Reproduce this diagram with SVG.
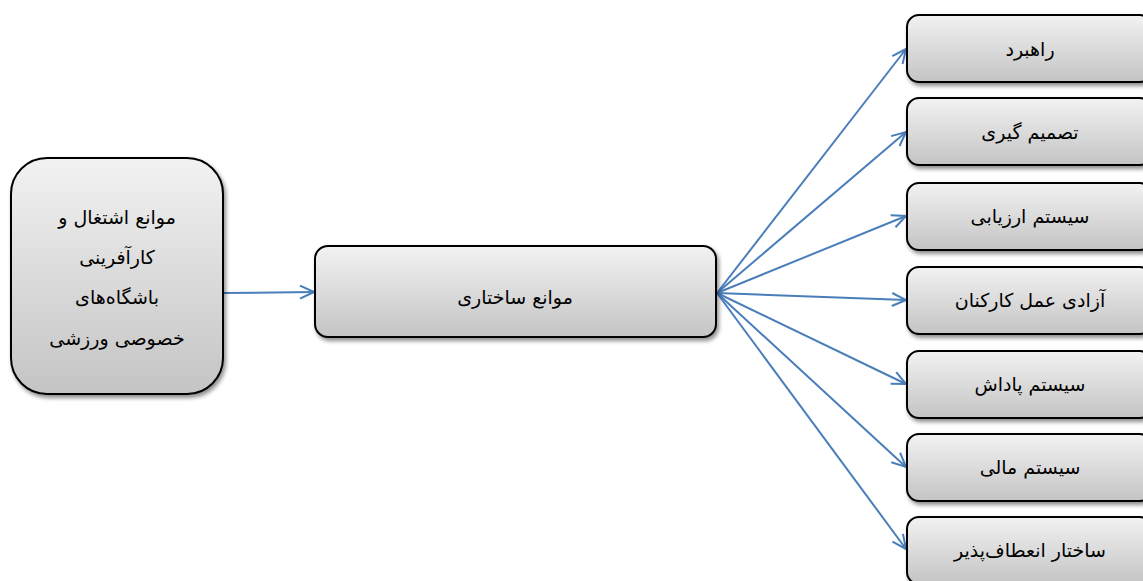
<svg xmlns="http://www.w3.org/2000/svg" width="1143" height="581" viewBox="0 0 1143 581">
<defs>
<linearGradient id="g" x1="0" y1="0" x2="0" y2="1">
<stop offset="0" stop-color="#f2f2f2"/>
<stop offset="1" stop-color="#c4c4c4"/>
</linearGradient>
<filter id="sh" x="-10%" y="-10%" width="130%" height="140%">
<feGaussianBlur in="SourceAlpha" stdDeviation="2"/>
<feOffset dx="2" dy="3"/>
<feComponentTransfer><feFuncA type="linear" slope="0.45"/></feComponentTransfer>
<feMerge><feMergeNode/><feMergeNode in="SourceGraphic"/></feMerge>
</filter>
<marker id="ah" viewBox="0 0 16 16" refX="15" refY="8" markerWidth="16" markerHeight="16" markerUnits="userSpaceOnUse" orient="auto">
<path d="M1,1.5 L15,8 L1,14.5" fill="none" stroke="#4a7ebb" stroke-width="2"/>
</marker>
</defs>
<style>
.box{fill:url(#g);stroke:#000;stroke-width:2;filter:url(#sh)}
.t{font-family:"DejaVu Sans",sans-serif;font-size:19px;fill:#000;text-anchor:middle;direction:rtl}
.c{stroke:#4a7ebb;stroke-width:2;fill:none;marker-end:url(#ah)}
</style>
<rect width="1143" height="581" fill="#fff"/>
<g id="connectors">
<line class="c" x1="223" y1="293" x2="314" y2="292"/>
<line class="c" x1="717" y1="293" x2="906" y2="49"/>
<line class="c" x1="717" y1="293" x2="906" y2="132"/>
<line class="c" x1="717" y1="293" x2="906" y2="216"/>
<line class="c" x1="717" y1="293" x2="906" y2="300"/>
<line class="c" x1="717" y1="293" x2="906" y2="384"/>
<line class="c" x1="717" y1="293" x2="906" y2="467"/>
<line class="c" x1="717" y1="293" x2="906" y2="549"/>
</g>
<g id="n0">
<rect class="box" x="11" y="158" width="212" height="236" rx="36"/>
<text class="t" x="117" y="224">موانع اشتغال و</text>
<text class="t" x="117" y="264">کارآفرینی</text>
<text class="t" x="117" y="304">باشگاه‌های</text>
<text class="t" x="117" y="345">خصوصی ورزشی</text>
</g>
<g id="n1">
<rect class="box" x="315" y="246" width="401" height="91" rx="13"/>
<text class="t" x="515" y="304">موانع ساختاری</text>
</g>
<g id="r1">
<rect class="box" x="907" y="15" width="245" height="67" rx="12"/>
<text class="t" x="1030" y="56">راهبرد</text>
</g>
<g id="r2">
<rect class="box" x="907" y="98" width="245" height="67" rx="12"/>
<text class="t" x="1030" y="139">تصمیم گیری</text>
</g>
<g id="r3">
<rect class="box" x="907" y="183" width="245" height="67" rx="12"/>
<text class="t" x="1030" y="223">سیستم ارزیابی</text>
</g>
<g id="r4">
<rect class="box" x="907" y="267" width="245" height="67" rx="12"/>
<text class="t" x="1030" y="307">آزادی عمل کارکنان</text>
</g>
<g id="r5">
<rect class="box" x="907" y="351" width="245" height="67" rx="12"/>
<text class="t" x="1030" y="391">سیستم پاداش</text>
</g>
<g id="r6">
<rect class="box" x="907" y="434" width="245" height="67" rx="12"/>
<text class="t" x="1030" y="474">سیستم مالی</text>
</g>
<g id="r7">
<rect class="box" x="907" y="517" width="245" height="67" rx="12"/>
<text class="t" x="1030" y="557">ساختار انعطاف‌پذیر</text>
</g>
</svg>
